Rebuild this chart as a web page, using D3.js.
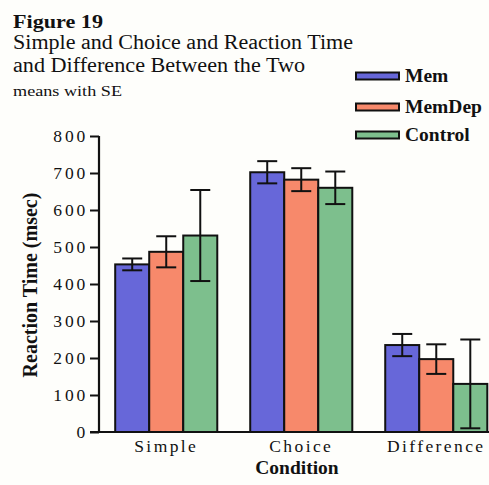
<!DOCTYPE html>
<html><head><meta charset="utf-8">
<script src="https://cdn.jsdelivr.net/npm/d3@7"></script>
<style>
html,body{margin:0;padding:0;background:#fefefb;}
svg{display:block;}
text{font-family:"Liberation Serif","Times New Roman",serif;fill:#111;}
</style></head>
<body>
<script>
const categories = ["Simple", "Choice", "Difference"];
const seriesNames = ["Mem", "MemDep", "Control"];
const memValues = [453, 702, 235];
const memDepValues = [487, 682, 197];
const controlValues = [531, 660, 130];
const memSE = [16, 30, 30];
const memDepSE = [42, 31, 40];
const controlSE = [123, 44, 120];
const yTicks = [0, 100, 200, 300, 400, 500, 600, 700, 800];
const colors = ["#6767d9", "#f7896b", "#7dbf8d"];

const seriesValues = [memValues, memDepValues, controlValues];
const seriesSE = [memSE, memDepSE, controlSE];

const W = 489, H = 485;
const svg = d3.select("body").append("svg").attr("width", W).attr("height", H);

// Titles
function title(txt, yy, size, len, bold) {
  svg.append("text").attr("x", 13).attr("y", yy)
    .style("font-weight", bold ? "bold" : "normal").style("font-size", size + "px")
    .attr("textLength", len).attr("lengthAdjust", "spacingAndGlyphs").text(txt);
}
title("Figure 19", 28, 19.5, 90, true);
title("Simple and Choice and Reaction Time", 49, 20, 340, false);
title("and Difference Between the Two", 72, 20, 292, false);
title("means with SE", 96, 15, 109, false);

const y = d3.scaleLinear().domain([0, 800]).range([432, 136]);
const x0 = d3.scaleBand().domain(categories).range([99, 503.5]).paddingInner(0.244).paddingOuter(0.12);
const x1 = d3.scaleBand().domain(seriesNames).range([0, x0.bandwidth()]);

// Bars
const g = svg.append("g");
categories.forEach((c, ci) => {
  seriesNames.forEach((s, si) => {
    const v = seriesValues[si][ci];
    const bx = x0(c) + x1(s);
    g.append("rect")
      .attr("x", bx).attr("y", y(v))
      .attr("width", x1.bandwidth()).attr("height", y(0) - y(v))
      .attr("fill", colors[si]).attr("stroke", "#111").attr("stroke-width", 2);
  });
});
// Error bars
categories.forEach((c, ci) => {
  seriesNames.forEach((s, si) => {
    const v = seriesValues[si][ci], e = seriesSE[si][ci];
    const cx = x0(c) + x1(s) + x1.bandwidth() / 2;
    const eb = g.append("g").attr("stroke", "#111").attr("stroke-width", 2);
    eb.append("line").attr("x1", cx).attr("x2", cx).attr("y1", y(v + e)).attr("y2", y(v - e));
    eb.append("line").attr("x1", cx - 10).attr("x2", cx + 10).attr("y1", y(v + e)).attr("y2", y(v + e));
    eb.append("line").attr("x1", cx - 10).attr("x2", cx + 10).attr("y1", y(v - e)).attr("y2", y(v - e));
  });
});

// Y axis
const yAxis = svg.append("g").attr("transform", "translate(99,0)")
  .call(d3.axisLeft(y).tickValues(yTicks).tickSize(9).tickPadding(2).tickFormat(d3.format("d")));
yAxis.select(".domain").attr("stroke", "#111").attr("stroke-width", 2.2).attr("d", `M0,${y(800)}V${y(0)}`);
yAxis.selectAll(".tick line").attr("stroke", "#111").attr("stroke-width", 2);
yAxis.selectAll(".tick text").style("font-family", "'Liberation Serif',serif").style("font-size", "17.5px")
  .style("letter-spacing", "2.8px").attr("fill", "#222");

// X axis
const xAxis = svg.append("g").attr("transform", `translate(0,${y(0)})`)
  .call(d3.axisBottom(x0).tickSize(0).tickPadding(8));
xAxis.select(".domain").attr("stroke", "#111").attr("stroke-width", 2.2).attr("d", `M90,0H${W}`);
xAxis.selectAll(".tick text").style("font-family", "'Liberation Serif',serif").style("font-size", "17.5px")
  .style("letter-spacing", "2.4px").attr("fill", "#222");

// Axis titles
svg.append("text").attr("transform", "translate(37,285) rotate(-90)").attr("text-anchor", "middle")
  .style("font-weight", "bold").style("font-size", "20px").text("Reaction Time (msec)");
svg.append("text").attr("x", 297).attr("y", 474).attr("text-anchor", "middle")
  .style("font-weight", "bold").style("font-size", "19.5px").text("Condition");

// Legend
const legendY = [76, 107, 135];
seriesNames.forEach((s, i) => {
  svg.append("rect").attr("x", 356).attr("y", legendY[i] - 3.5).attr("width", 43).attr("height", 7)
    .attr("fill", colors[i]).attr("stroke", "#111").attr("stroke-width", 2);
  svg.append("text").attr("x", 405).attr("y", legendY[i] + 6).style("font-weight", "bold")
    .style("font-size", "19.5px").text(s);
});
</script>
</body></html>
